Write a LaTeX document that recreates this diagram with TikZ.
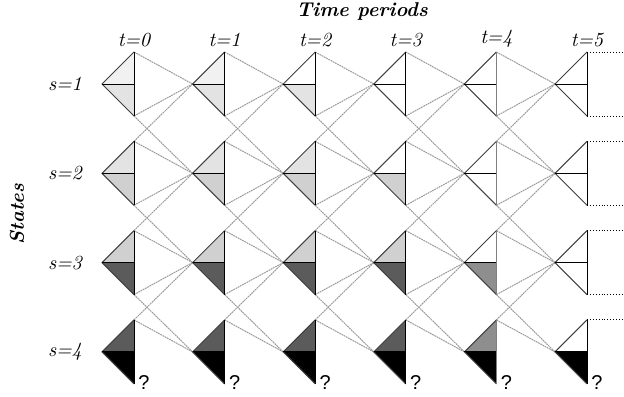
\documentclass[tikz,border=0pt]{standalone}
\usepackage{fontspec}
\newfontfamily\qfont{Liberation Sans}
\usetikzlibrary{calc,positioning}
\definecolor{lvA}{HTML}{F1F1F1}
\definecolor{lvB}{HTML}{E3E3E3}
\definecolor{lvC}{HTML}{D0D0D0}
\definecolor{lvD}{HTML}{8E8E8E}
\definecolor{lvE}{HTML}{5B5B5B}
\definecolor{lnk}{HTML}{9A9A9A}

\begin{document}
\begin{tikzpicture}[
    x=0.5pt,y=-0.5pt,
    link/.style={lnk,dash pattern=on 0.9pt off 0.35pt,line width=0.5pt},
    stub/.style={black,densely dotted,line width=0.45pt},
    diag/.style={black!75,line width=0.5pt},
    rim/.style={black,line width=0.5pt},
    lab/.style={font=\itshape},
    ttl/.style={font=\bfseries\itshape},
    qmark/.style={font=\qfont,anchor=base west,inner sep=0pt}
]
\useasboundingbox (0,0) rectangle (624,396);

% corners of every triangle: apex, top, middle, bottom
\foreach \t in {0,...,5}
  \foreach \s in {1,...,4} {
    \coordinate (L\t\s) at ({102+90.6*\t},{84+89.3*(\s-1)});
    \coordinate (T\t\s) at ($(L\t\s)+(32,-32)$);
    \coordinate (M\t\s) at ($(L\t\s)+(32,0)$);
    \coordinate (B\t\s) at ($(L\t\s)+(32,32)$);
  }
\coordinate (far) at (624,0);

% transitions to the next period
\foreach \t [count=\n] in {0,...,4} {
  \foreach \s in {1,...,4} {
    \draw[link] (T\t\s) -- (L\n\s);
    \ifnum\s<4 \draw[link] (B\t\s) -- (L\n\s); \fi
  }
  \foreach \s [count=\u] in {2,3,4}
    \draw[link] (T\t\s) -- (L\n\u);
  \foreach \v [count=\s] in {2,3,4}
    \draw[link] (B\t\s) -- (L\n\v);
}

% triangles with their shades
\foreach \t/\s/\up/\lo in {
    0/1/lvA/lvB, 0/2/lvB/lvC, 0/3/lvC/lvE, 0/4/lvE/black,
    1/1/lvA/lvB, 1/2/lvB/lvC, 1/3/lvC/lvE, 1/4/lvE/black,
    2/1/white/lvB, 2/2/lvB/lvC, 2/3/lvC/lvE, 2/4/lvE/black,
    3/1/white/white, 3/2/white/lvC, 3/3/lvC/lvE, 3/4/lvE/black,
    4/1/white/white, 4/2/white/white, 4/3/white/lvD, 4/4/lvD/black,
    5/1/white/white, 5/2/white/white, 5/3/white/white, 5/4/white/black} {
  \fill[\up] (L\t\s) -- (T\t\s) -- (M\t\s) -- cycle;
  \fill[\lo] (L\t\s) -- (M\t\s) -- (B\t\s) -- cycle;
  \draw[diag] (T\t\s) -- (L\t\s) -- (B\t\s);
  \draw[rim] (L\t\s) -- (M\t\s);
  \draw[rim] (T\t\s) -- (B\t\s);
}
\foreach \s in {1,...,4}
  \draw[rim,gray] (T4\s) -- (B4\s);

% open ends after the last period
\foreach \s in {1,...,4}
  \draw[stub] (T5\s) -- (T5\s -| far);
\foreach \s in {1,2,3}
  \draw[stub] (B5\s) -- (B5\s -| far);

% labels
\foreach \t in {0,...,5} {
  \node[lab,above=-1pt of T\t1] (h\t) {t=\t};
  \node[qmark] (q\t) at ([xshift=2pt,yshift=-3pt]B\t4) {?};
}
\foreach \s in {1,...,4}
  \node[lab,left=6.5pt of L0\s] (r\s) {s=\s};

\node[ttl] (tp) at (362,11) {Time periods};
\node[ttl,rotate=90] (st) at (17,214) {States};
\end{tikzpicture}
\end{document}
